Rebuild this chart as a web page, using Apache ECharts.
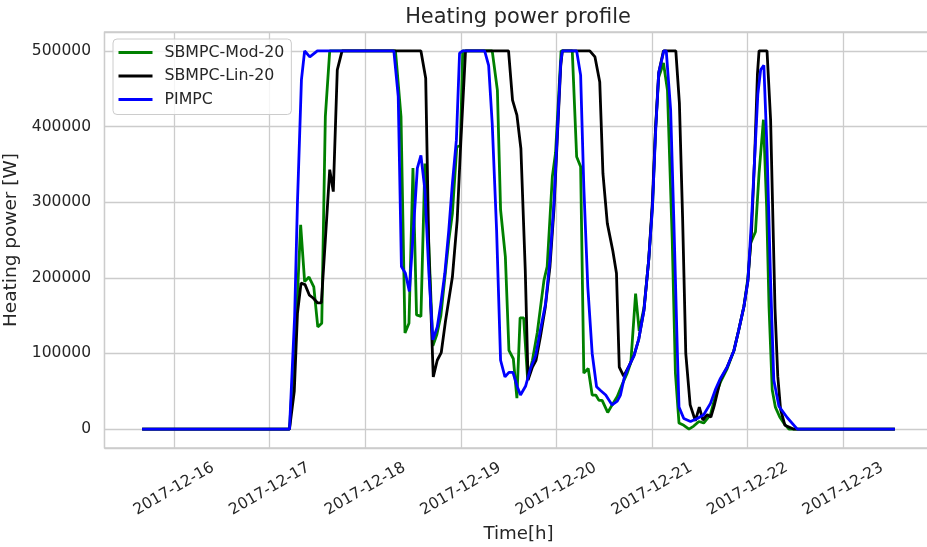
<!DOCTYPE html>
<html>
<head>
<meta charset="utf-8">
<title>Heating power profile</title>
<script src="https://cdn.jsdelivr.net/npm/echarts@6/dist/echarts.min.js"></script>
<style>
  html, body { margin: 0; padding: 0; background: #fff; }
  #chart { width: 927px; height: 547px; }
</style>
</head>
<body>
<div id="chart"></div>
<script>
// hours counted from 2017-12-16 00:00, power in W
const modPoints = [
  [-8, 0], [29, 0], [30.3, 110000], [30.8, 155000], [31.8, 270000], [32.8, 195000], [33.9, 201000],
  [35.1, 188000], [36.1, 135000], [37.1, 140000], [38, 413000], [39.1, 500000], [55.6, 500000],
  [56, 476000], [57, 413000], [58, 127000], [59, 140000], [60, 345000], [60.9, 151000], [62, 149000],
  [63, 351000], [64, 240000], [65, 110000], [66, 125000], [67, 150000], [68, 200000], [69, 250000],
  [69.9, 285000], [71, 373000], [71.9, 375000], [72.5, 500000], [79.9, 500000], [81.2, 448000],
  [82, 290000], [83.2, 228000], [84.1, 104000], [85.2, 93000], [86.1, 41000], [86.9, 147000],
  [87.8, 147000], [88.8, 65000], [90, 91000], [91.2, 127000], [92, 160000], [92.9, 197000],
  [93.7, 215000], [95, 334000], [95.8, 365000], [97.2, 500000], [100, 500000], [101.1, 360000],
  [102.1, 347000], [102.9, 74000], [104, 80000], [105, 45000], [105.9, 45000], [106.7, 38000],
  [107.5, 38000], [108.9, 22000], [109.9, 31000], [111.3, 43000], [112.6, 60000], [113.8, 74000],
  [114.7, 88000], [115.9, 179000], [116.8, 130000], [118, 160000], [119.2, 224000], [120.2, 300000],
  [120.9, 396000], [121.7, 465000], [122.9, 484000], [123.9, 448000], [125.1, 250000], [125.9, 74000],
  [126.8, 8000], [128, 5000], [129.3, 0], [130.5, 4000], [131.8, 10000], [133, 8000], [134.7, 19000],
  [136, 45000], [137.2, 62000], [138.9, 80000], [140.6, 104000], [141.8, 131000], [143.1, 162000],
  [144.1, 200000], [144.8, 246000], [146, 261000], [146.9, 338000], [148, 409000], [148.8, 294000],
  [149.4, 162000], [150.2, 52000], [151, 29000], [152.1, 16000], [153.1, 8000], [154.4, 0], [181, 0]
]

const linPoints = [
  [-8, 0], [29, 0], [30.2, 50000], [31, 153000], [31.9, 193000], [32.9, 191000], [34, 177000],
  [35, 173000], [36, 167000], [37, 167000], [38, 250000], [39.1, 343000], [40, 314000], [41, 475000],
  [42.2, 500000], [62, 500000], [63.2, 464000], [64, 233000], [65.1, 69000], [66.1, 91000],
  [67.1, 101000], [68.2, 144000], [69.9, 201000], [71.1, 276000], [72, 378000], [73.2, 500000],
  [84, 500000], [85, 435000], [86.1, 415000], [87.1, 371000], [88.2, 210000], [88.9, 65000],
  [90, 82000], [90.9, 91000], [92, 122000], [93.2, 160000], [94.4, 215000], [95.4, 290000],
  [96.2, 380000], [97.1, 480000], [97.5, 500000], [104.4, 500000], [105.7, 492000], [106.9, 459000],
  [107.7, 338000], [108.8, 272000], [110.2, 235000], [111.1, 206000], [111.8, 82000], [112.9, 70000],
  [114.2, 83000], [115.5, 97000], [116.7, 119000], [118, 157000], [119.2, 224000], [120.1, 299000],
  [120.9, 396000], [121.7, 471000], [122.9, 500000], [126, 500000], [126.9, 431000], [127.7, 280000],
  [128.5, 100000], [129.6, 32000], [130.9, 11000], [131.9, 29000], [132.8, 12000], [133.9, 19000],
  [134.8, 16000], [135.6, 30000], [137.2, 65000], [138.9, 82000], [140.6, 104000], [141.8, 131000],
  [143.1, 162000], [144.1, 196000], [145, 260000], [145.8, 360000], [146.5, 470000], [146.9, 500000],
  [148.9, 500000], [149.8, 409000], [150.5, 250000], [150.9, 160000], [151.6, 70000], [152.3, 26000],
  [153.4, 5000], [155.5, 0], [181, 0]
]

const pimpcPoints = [
  [-8, 0], [29, 0], [30.3, 150000], [31, 300000], [32, 462000], [32.8, 500000], [34.1, 492000],
  [36, 500000], [55.2, 500000], [56.3, 440000], [57.1, 215000], [58.1, 206000], [59.1, 182000],
  [60, 254000], [61.1, 345000], [62, 362000], [63, 316000], [64, 206000], [65, 118000], [66.1, 135000],
  [66.9, 162000], [68, 206000], [69, 263000], [69.9, 325000], [70.9, 382000], [71.7, 497000],
  [72.5, 500000], [78, 500000], [79, 481000], [79.9, 404000], [81, 263000], [82, 91000], [83.1, 69000],
  [84.1, 75000], [85.1, 75000], [86.2, 56000], [87, 45000], [88.3, 57000], [89.5, 80000], [90.8, 97000],
  [92, 131000], [93.3, 166000], [94.4, 224000], [95.4, 299000], [96.2, 387000], [97.1, 484000],
  [97.5, 500000], [101.1, 500000], [102.1, 468000], [102.9, 320000], [103.9, 188000], [105, 100000],
  [106.1, 56000], [107.1, 51000], [108.4, 45000], [110, 32000], [111.3, 37000], [112.1, 45000],
  [113.1, 69000], [114.2, 83000], [115.5, 97000], [116.7, 119000], [118, 157000], [119.2, 224000],
  [120.1, 290000], [120.9, 390000], [121.7, 471000], [123, 500000], [123.6, 500000], [124.7, 422000],
  [125.5, 276000], [126.4, 100000], [126.8, 29000], [128, 14000], [129.7, 10000], [131.4, 14000],
  [133, 19000], [134.7, 34000], [136, 53000], [137.2, 67000], [138.9, 82000], [140.6, 104000],
  [141.8, 131000], [143.1, 162000], [144.1, 196000], [145, 276000], [145.8, 359000], [146.6, 443000],
  [147.3, 475000], [148.1, 481000], [148.9, 370000], [149.8, 195000], [150.6, 65000], [151.9, 30000],
  [154, 15000], [156.5, 0], [181, 0]
]

const seriesNames = ['SBMPC-Mod-20', 'SBMPC-Lin-20', 'PIMPC']
const seriesColors = ['#008000', '#000000', '#0000ff']

const HOUR = 3600 * 1000
const DAY = 24 * HOUR
const base = new Date(2017, 11, 16, 0, 0, 0).getTime()
const toTime = (points) => points.map(p => [base + p[0] * HOUR, p[1]])

const font = 'DejaVu Sans'
const textColor = '#262626'
const gridColor = '#cccccc'

const chart = echarts.init(document.getElementById('chart'), null, {renderer: 'canvas'})

chart.setOption({
  animation: false,
  backgroundColor: '#ffffff',
  title: {
    text: 'Heating power profile',
    left: 513,
    top: 2,
    textAlign: 'center',
    textStyle: {
      fontFamily: font,
      fontSize: 20.9,
      fontWeight: 'normal',
      color: textColor,
    },
  },
  legend: {
    orient: 'vertical',
    left: 113,
    top: 39,
    padding: [5.5, 7, 7, 5.5],
    itemWidth: 34,
    itemHeight: 3,
    itemGap: 7.5,
    icon: 'rect',
    backgroundColor: 'rgba(255,255,255,0.8)',
    borderColor: gridColor,
    borderWidth: 1,
    borderRadius: 4,
    data: seriesNames,
    textStyle: {
      fontFamily: font,
      fontSize: 15.8,
      lineHeight: 16,
      color: textColor,
      padding: [0, 0, 0, 7],
    },
  },
  grid: {
    left: 104.5,
    top: 32,
    width: 828,
    height: 416,
    show: true,
    borderColor: gridColor,
    borderWidth: 1.3,
    outerBoundsMode: 'none',
  },
  xAxis: {
    type: 'time',
    min: base - 17.45 * HOUR,
    max: base + 190.45 * HOUR,
    minInterval: DAY,
    maxInterval: DAY,
    splitNumber: 8,
    name: 'Time[h]',
    nameLocation: 'middle',
    nameGap: 71,
    nameTextStyle: {
      fontFamily: font,
      fontSize: 18.2,
      color: textColor,
    },
    axisLine: {show: false},
    axisTick: {show: false},
    axisLabel: {
      formatter: '{yyyy}-{MM}-{dd}',
      rotate: 30,
      align: 'center',
      verticalAlign: 'middle',
      margin: 41,
      interval: 0,
      hideOverlap: false,
      fontFamily: font,
      fontSize: 15.5,
      color: textColor,
    },
    splitLine: {
      show: true,
      lineStyle: {color: gridColor, width: 1.3},
    },
  },
  yAxis: {
    type: 'value',
    min: -25000,
    max: 525000,
    splitNumber: 5,
    name: 'Heating power [W]',
    nameLocation: 'middle',
    nameGap: 74,
    nameTextStyle: {
      fontFamily: font,
      fontSize: 18.5,
      color: textColor,
    },
    axisLine: {show: false},
    axisTick: {show: false},
    axisLabel: {
      showMinLabel: false,
      showMaxLabel: false,
      margin: 13.5,
      fontFamily: font,
      fontSize: 15.5,
      color: textColor,
      formatter: (v) => String(v),
    },
    splitLine: {
      show: true,
      lineStyle: {color: gridColor, width: 1.3},
    },
  },
  series: [modPoints, linPoints, pimpcPoints].map((points, i) => ({
    name: seriesNames[i],
    type: 'line',
    data: toTime(points),
    showSymbol: false,
    symbol: 'none',
    color: seriesColors[i],
    lineStyle: {width: 2.8, color: seriesColors[i]},
    z: 2 + i,
  })),
})
</script>
</body>
</html>
